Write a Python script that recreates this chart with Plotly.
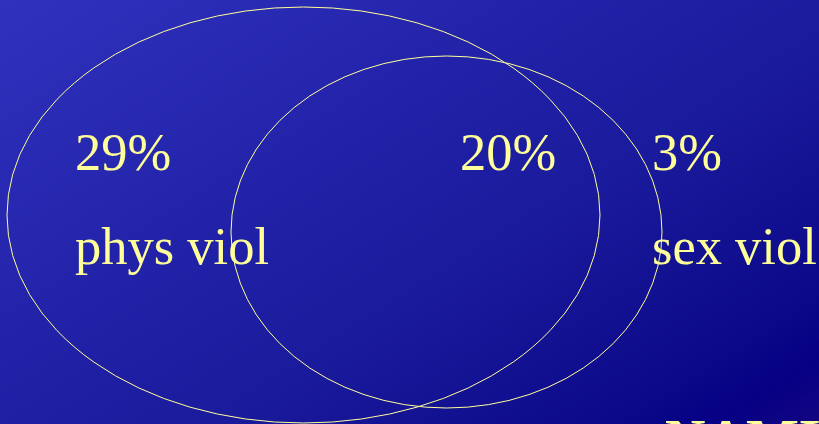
import numpy as np
import plotly.graph_objects as go

# ---- data ----
percentages = ["29%", "20%", "3%"]
set_labels = ["phys viol", "sex viol"]
footer_label = "NAMIBIA"

W, H = 819, 424

# ---- background diagonal gradient (heatmap) ----
gx = np.linspace(0, W, 60)
gy = np.linspace(0, H, 40)
XX, YY = np.meshgrid(gx, gy)
Z = (XX / W * 0.55 + YY / H * 0.45)

bg_scale = [
    [0.0, "#3032BE"],
    [0.35, "#2323AA"],
    [0.6, "#1A1A9C"],
    [0.85, "#0C0A8A"],
    [0.93, "#060084"],
    [1.0, "#140682"],
]

fig = go.Figure()
fig.add_trace(go.Heatmap(x=gx, y=gy, z=Z, colorscale=bg_scale, showscale=False,
                         zsmooth="best", hoverinfo="skip"))

# ---- ellipses (layout geometry) ----
ell_color = "#FFFF99"
ellipses = [
    dict(x0=7, x1=600, y0=7, y1=423),
    dict(x0=231, x1=662, y0=56, y1=408),
]
for e in ellipses:
    fig.add_shape(type="circle", xref="x", yref="y", **e,
                  line=dict(color=ell_color, width=1), fillcolor="rgba(0,0,0,0)")

txt_font = dict(family="Liberation Serif, Times New Roman, serif", size=52.5, color="#FFFF99")

pct_pos = [(73, 152), (458, 152), (650, 152)]
for t, (x, y) in zip(percentages, pct_pos):
    fig.add_annotation(x=x, y=y, text=t, showarrow=False, xanchor="left", yanchor="middle",
                       font=txt_font)

lab_pos = [(73, 246), (650, 246)]
for t, (x, y) in zip(set_labels, lab_pos):
    fig.add_annotation(x=x, y=y, text=t, showarrow=False, xanchor="left", yanchor="middle",
                       font=txt_font)

fig.add_annotation(x=663, y=407, text="<b>" + footer_label + "</b>", showarrow=False,
                   xanchor="left", yanchor="top",
                   font=dict(family="Liberation Serif, Times New Roman, serif", size=56,
                             color="#FFFF99"))

fig.update_xaxes(range=[0, W], visible=False, showgrid=False, zeroline=False)
fig.update_yaxes(range=[H, 0], visible=False, showgrid=False, zeroline=False)
fig.update_layout(width=W, height=H, margin=dict(l=0, r=0, t=0, b=0),
                  paper_bgcolor="#1A1A9C", plot_bgcolor="#1A1A9C", showlegend=False)

fig.write_html("out.html", config={"displayModeBar": False},
               post_script="document.body.style.margin='0';document.body.style.overflow='hidden';")
